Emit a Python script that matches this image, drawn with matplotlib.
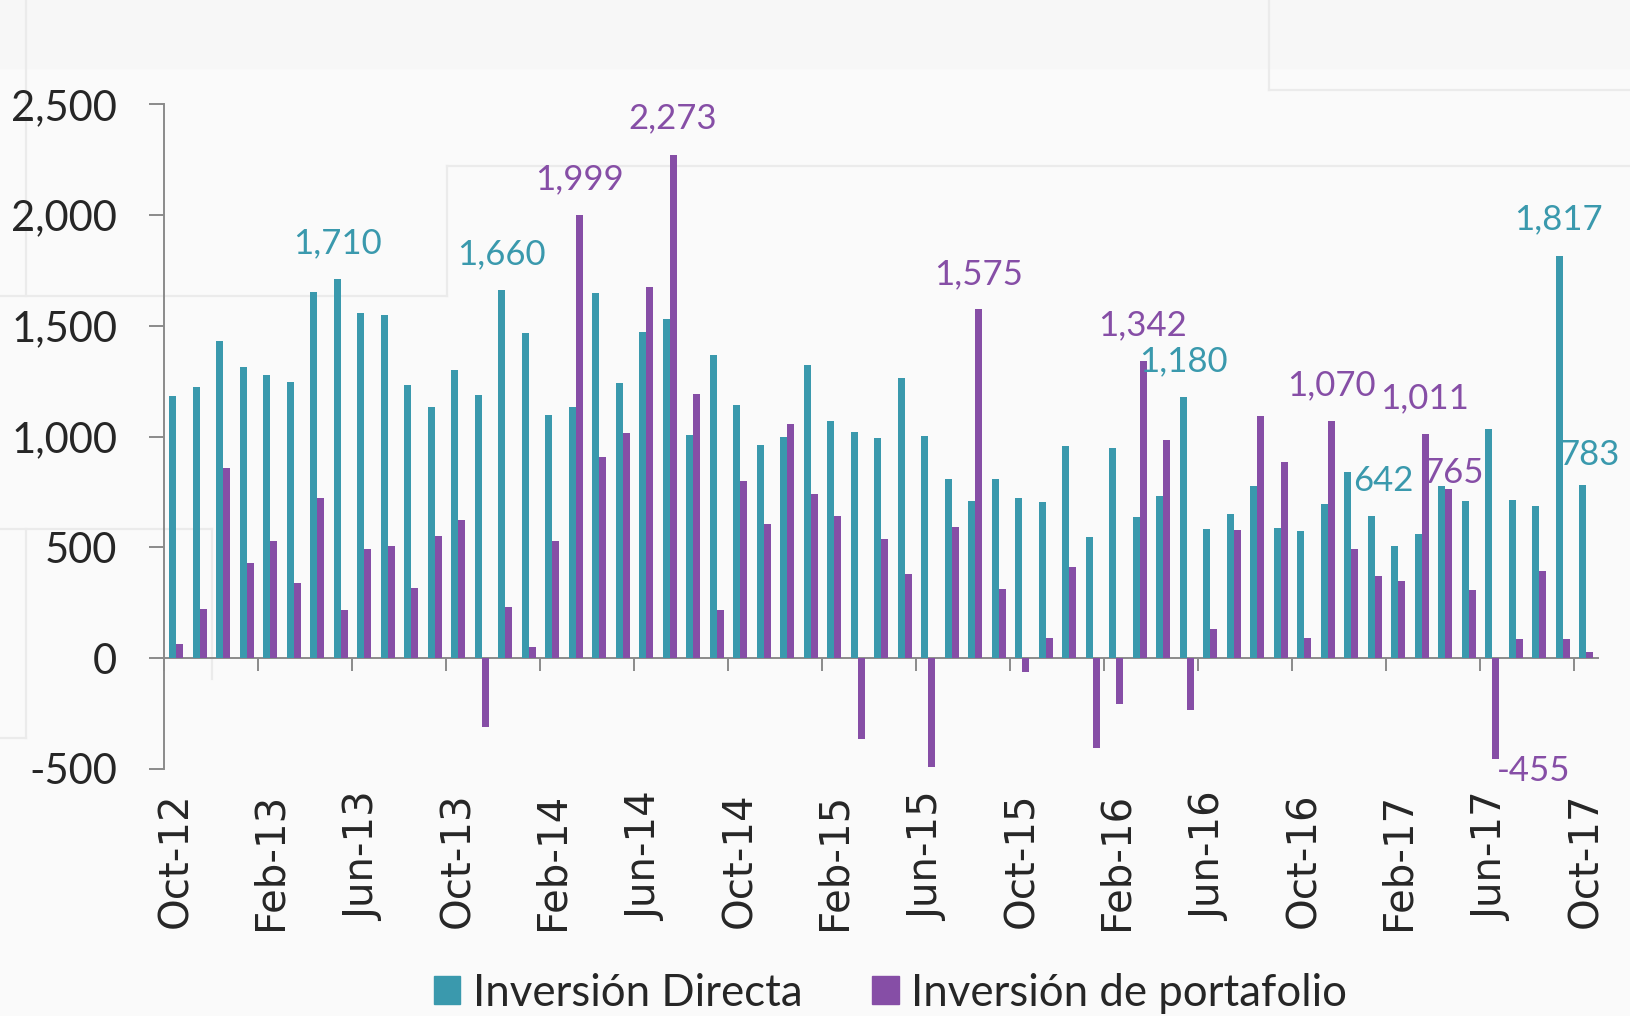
import matplotlib
matplotlib.use("Agg")
import matplotlib.pyplot as plt
import pandas as pd
from matplotlib.lines import Line2D
from matplotlib.patches import Patch, Rectangle

# monthly categories Oct-12 .. Oct-17
months = pd.date_range("2012-10-01", periods=61, freq="MS").strftime("%b-%y").tolist()

directa = [1184, 1224, 1432, 1313, 1277, 1248, 1653, 1710, 1557, 1549, 1232, 1132,
           1301, 1188, 1660, 1470, 1099, 1136, 1649, 1240, 1472, 1532, 1007, 1367,
           1144, 963, 997, 1323, 1071, 1019, 995, 1263, 1003, 809, 711, 809,
           725, 705, 959, 546, 950, 638, 731, 1180, 582, 650, 779, 586,
           574, 695, 842, 642, 507, 562, 777, 711, 1035, 715, 687, 1817, 783]

portafolio = [66, 221, 858, 429, 530, 338, 723, 217, 491, 507, 318, 552,
              624, -310, 232, 50, 530, 1999, 910, 1015, 1677, 2273, 1192, 217,
              801, 606, 1059, 739, 642, -366, 538, 379, -493, 594, 1575, 312,
              -62, 89, 411, -403, -205, 1342, 983, -234, 133, 578, 1095, 884,
              89, 1070, 491, 369, 348, 1011, 765, 306, -455, 85, 395, 85, 28]

series_names = ["Inversión Directa", "Inversión de portafolio"]
y_ticks = [-500, 0, 500, 1000, 1500, 2000, 2500]

# which bars get a value label: index -> (x offset, y offset) in data units
labels_directa = {7: (-0.15, 162), 14: (-0.16, 165), 43: (-0.14, 161),
                  51: (0.36, 160), 59: (-0.16, 162), 60: (0.16, 136)}
labels_portafolio = {17: (0.15, 163), 21: (0.14, 166), 34: (0.15, 160),
                     41: (0.14, 159), 49: (0.15, 164), 53: (0.13, 162),
                     54: (0.37, 70), 56: (1.75, -52)}

TEAL = "#3A99AD"
PURPLE = "#864EA6"
GRAY = "#8a8a8a"
TEXT = "#262626"

W, H = 1631, 1016
fig = plt.figure(figsize=(W / 100, H / 100), dpi=100, facecolor="#fafafa")


def px_line(x0, y0, x1, y1):
    fig.add_artist(Line2D([x0 / W, x1 / W], [1 - y0 / H, 1 - y1 / H],
                          color="#ebebeb", lw=1.6, zorder=0))


# faint slide background panels
fig.add_artist(Rectangle((0, 1 - 68 / H), 1, 68 / H, transform=fig.transFigure,
                         color="#f7f7f7", zorder=0))
px_line(26, 0, 26, 296)
px_line(0, 296, 447, 296)
px_line(447, 296, 447, 166)
px_line(447, 166, W, 166)
px_line(1269, 0, 1269, 90)
px_line(1269, 90, W, 90)
px_line(0, 529, 212, 529)
px_line(212, 529, 212, 679)
px_line(26, 529, 26, 738)
px_line(0, 738, 26, 738)

ax = fig.add_axes([164.3 / W, 1 - 769 / H, (1597.8 - 164.3) / W, (769 - 104.3) / H])
ax.set_facecolor("none")

x = list(range(len(months)))
bw = 0.3
ax.bar([i - bw / 2 for i in x], directa, width=bw, color=TEAL, zorder=3)
ax.bar([i + bw / 2 for i in x], portafolio, width=bw, color=PURPLE, zorder=3)

ax.set_xlim(-0.5, len(months) - 0.5)
ax.set_ylim(-500, 2500)

for sp in ["top", "right", "bottom"]:
    ax.spines[sp].set_visible(False)
ax.spines["left"].set_color(GRAY)
ax.spines["left"].set_linewidth(1.4)

ax.set_yticks(y_ticks)
ax.set_yticklabels([f"{v:,}" for v in y_ticks], fontfamily="Lato", fontsize=30, color=TEXT)
ax.tick_params(axis="y", direction="out", length=10.8, width=1.4, color=GRAY, pad=23)

step = 4
ax.set_xticks(x[::step])
ax.set_xticklabels(months[::step], rotation=90, fontfamily="DejaVu Sans",
                   fontsize=29, color=TEXT, va="top")
ax.tick_params(axis="x", length=0, pad=17)

# zero line with category-boundary tick marks
zero = ax.secondary_xaxis(500 / 3000)
zero.set_xticks([i - 0.5 for i in x[::step]])
zero.tick_params(direction="out", length=9, width=1.4, color=GRAY, labelbottom=False, labeltop=False)
for sp in zero.spines.values():
    sp.set_color(GRAY)
    sp.set_linewidth(1.4)

for idx, (dx, dy) in labels_directa.items():
    ax.text(idx + dx, directa[idx] + dy, f"{directa[idx]:,}", color=TEAL,
            fontfamily="Lato", fontsize=25, ha="center", va="center", zorder=4)
for idx, (dx, dy) in labels_portafolio.items():
    ax.text(idx + dx, portafolio[idx] + dy, f"{portafolio[idx]:,}", color=PURPLE,
            fontfamily="Lato", fontsize=25, ha="center", va="center", zorder=4)

handles = [Patch(color=TEAL), Patch(color=PURPLE)]
fig.legend(handles, series_names, loc="center", bbox_to_anchor=(0.546, 1 - 993 / H),
           ncol=2, frameon=False, prop={"family": "Lato", "size": 31.5},
           labelcolor=TEXT, handlelength=0.6, handleheight=0.6,
           handletextpad=0.29, columnspacing=1.6, borderpad=0.1)

fig.savefig("out.png", dpi=100, facecolor=fig.get_facecolor())
